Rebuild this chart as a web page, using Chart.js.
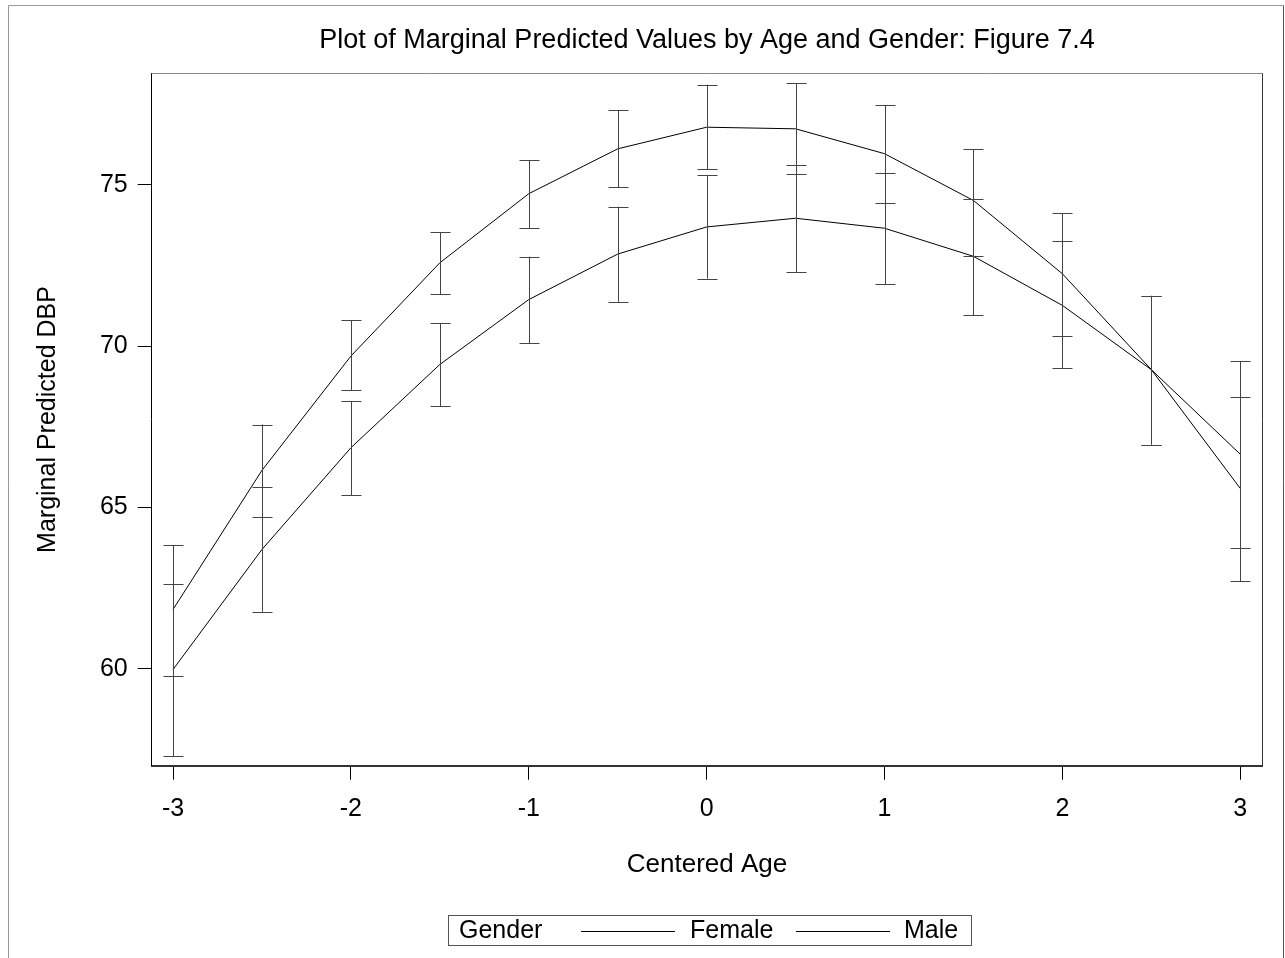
<!DOCTYPE html>
<html>
<head>
<meta charset="utf-8">
<script src="https://cdn.jsdelivr.net/npm/chart.js@4.4.1/dist/chart.umd.min.js"></script>
<style>
  html, body { margin: 0; padding: 0; background: #fff; }
  #wrap { width: 1285px; height: 958px; }
</style>
</head>
<body>
<div id="wrap"><canvas id="chart" width="1285" height="958"></canvas></div>
<script>
const AGES    = [-3, -2.5, -2, -1.5, -1, -0.5, 0, 0.5, 1, 1.5, 2, 2.5, 3];
const X_TICKS = [-3, -2, -1, 0, 1, 2, 3];
const Y_TICKS = [60, 65, 70, 75];

// upper curve
const MALE_MEAN = [61.84, 66.15, 69.69, 72.58, 74.72, 76.11, 76.78, 76.73, 75.96, 74.51, 72.24, 69.27, 65.59];
const MALE_LO   = [59.79, 64.69, 68.64, 71.60, 73.66, 74.92, 75.48, 75.32, 74.44, 72.79, 70.31, 66.95, 62.72];
const MALE_HI   = [63.83, 67.57, 70.80, 73.53, 75.75, 77.30, 78.10, 78.15, 77.46, 76.09, 74.11, 71.56, 68.42];

// lower curve
const FEMALE_MEAN = [59.98, 63.70, 66.85, 69.43, 71.44, 72.85, 73.69, 73.96, 73.65, 72.78, 71.26, 69.27, 66.65];
const FEMALE_LO   = [57.30, 61.77, 65.38, 68.13, 70.08, 71.37, 72.09, 72.28, 71.92, 70.96, 69.32, 66.95, 63.73];
const FEMALE_HI   = [62.63, 65.62, 68.30, 70.71, 72.77, 74.32, 75.29, 75.62, 75.36, 74.55, 73.25, 71.54, 69.53];

const FAMILY = '"Liberation Sans", Arial, Helvetica, sans-serif';
const FONT = { family: FAMILY, size: 25 };

function points(ys) {
  return AGES.map((x, i) => ({ x, y: ys[i] }));
}

// vertical bars with caps, drawn through the chart scales
const errorBars = {
  id: 'errorBars',
  afterDatasetsDraw(chart) {
    const { ctx, scales: { x, y } } = chart;
    ctx.save();
    ctx.strokeStyle = '#444';
    ctx.lineWidth = 1;
    chart.data.datasets.forEach(ds => {
      ds.lo.forEach((lo, i) => {
        const px = Math.round(x.getPixelForValue(AGES[i])) + 0.5;
        const top = y.getPixelForValue(ds.hi[i]);
        const bot = y.getPixelForValue(lo);
        ctx.beginPath();
        ctx.moveTo(px, top);
        ctx.lineTo(px, bot);
        ctx.moveTo(px - 10, Math.round(top) + 0.5);
        ctx.lineTo(px + 10, Math.round(top) + 0.5);
        ctx.moveTo(px - 10, Math.round(bot) + 0.5);
        ctx.lineTo(px + 10, Math.round(bot) + 0.5);
        ctx.stroke();
      });
    });
    ctx.restore();
  }
};

// page frame, plot frame and the boxed legend
const frame = {
  id: 'frame',
  beforeDraw(chart) {
    const ctx = chart.ctx;
    ctx.save();
    ctx.fillStyle = '#fff';
    ctx.fillRect(0, 0, chart.width, chart.height);
    ctx.lineWidth = 1;
    ctx.strokeStyle = '#999';
    ctx.beginPath();
    ctx.moveTo(8.5, 958);
    ctx.lineTo(8.5, 5.5);
    ctx.lineTo(1283.5, 5.5);
    ctx.stroke();
    ctx.strokeStyle = '#555';
    ctx.beginPath();
    ctx.moveTo(1283.5, 5.5);
    ctx.lineTo(1283.5, 958);
    ctx.stroke();
    ctx.restore();
  },
  afterDraw(chart) {
    const { ctx, chartArea: a } = chart;
    ctx.save();
    ctx.lineWidth = 1;
    ctx.strokeStyle = '#888';
    ctx.beginPath();
    ctx.moveTo(a.left, Math.round(a.top) + 0.5);
    ctx.lineTo(Math.round(a.right) + 0.5, Math.round(a.top) + 0.5);
    ctx.stroke();
    ctx.strokeStyle = '#333';
    ctx.beginPath();
    ctx.moveTo(Math.round(a.right) + 0.5, a.top);
    ctx.lineTo(Math.round(a.right) + 0.5, a.bottom);
    ctx.stroke();

    // legend
    const box = { l: 448.5, t: 915.5, r: 971.5, b: 945.5 };
    const cy = (box.t + box.b) / 2 + 0.5;
    ctx.strokeStyle = '#555';
    ctx.strokeRect(box.l, box.t, box.r - box.l, box.b - box.t);
    ctx.fillStyle = '#000';
    ctx.font = `${FONT.size}px ${FAMILY}`;
    ctx.textBaseline = 'middle';
    ctx.textAlign = 'left';
    ctx.fillText('Gender', 459, cy);
    const items = [
      { label: chart.data.datasets[1].label, x0: 581, x1: 675, tx: 690 },
      { label: chart.data.datasets[0].label, x0: 796, x1: 890, tx: 904 },
    ];
    ctx.strokeStyle = '#000';
    items.forEach(it => {
      ctx.beginPath();
      ctx.moveTo(it.x0, Math.round(cy) + 0.5);
      ctx.lineTo(it.x1, Math.round(cy) + 0.5);
      ctx.stroke();
      ctx.fillText(it.label, it.tx, cy);
    });
    ctx.restore();
  }
};

new Chart(document.getElementById('chart'), {
  type: 'line',
  plugins: [frame, errorBars],
  data: {
    datasets: [
      {
        label: 'Male',
        data: points(MALE_MEAN),
        lo: MALE_LO,
        hi: MALE_HI,
        borderColor: '#000',
        borderWidth: 1,
        pointRadius: 0,
        tension: 0,
      },
      {
        label: 'Female',
        data: points(FEMALE_MEAN),
        lo: FEMALE_LO,
        hi: FEMALE_HI,
        borderColor: '#000',
        borderWidth: 1,
        pointRadius: 0,
        tension: 0,
      },
    ],
  },
  options: {
    responsive: false,
    animation: false,
    layout: { padding: { left: 0, top: 0, right: 22.7, bottom: 0 } },
    plugins: {
      legend: { display: false },
      tooltip: { enabled: false },
      title: {
        display: true,
        fullSize: false,
        text: 'Plot of Marginal Predicted Values by Age and Gender: Figure 7.4',
        color: '#000',
        font: { family: FAMILY, size: 27, weight: 'normal', lineHeight: 1.2 },
        padding: { top: 24, bottom: 16.9 },
      },
    },
    scales: {
      x: {
        type: 'linear',
        min: -3.12,
        max: 3.124,
        afterBuildTicks: s => { s.ticks = X_TICKS.map(v => ({ value: v })); },
        afterFit: s => { s.height = 192.3; },
        ticks: { color: '#000', font: FONT, padding: 14.5, maxRotation: 0, autoSkip: false },
        grid: { drawOnChartArea: false, tickLength: 14, color: '#000', tickWidth: 1 },
        border: { color: '#333', width: 2 },
        title: {
          display: true,
          text: 'Centered Age',
          color: '#000',
          font: { family: FAMILY, size: 26 },
          padding: { top: 0, bottom: 77.4 },
        },
      },
      y: {
        min: 57.0,
        max: 78.45,
        afterBuildTicks: s => { s.ticks = Y_TICKS.map(v => ({ value: v })); },
        afterFit: s => { s.width = 151.7; },
        ticks: { color: '#000', font: FONT, padding: 10 },
        grid: { drawOnChartArea: false, tickLength: 14, color: '#000', tickWidth: 1 },
        border: { color: '#000', width: 1 },
        title: {
          display: true,
          text: 'Marginal Predicted DBP',
          color: '#000',
          font: FONT,
          padding: { top: 33, bottom: 0 },
        },
      },
    },
  },
});
</script>
</body>
</html>
